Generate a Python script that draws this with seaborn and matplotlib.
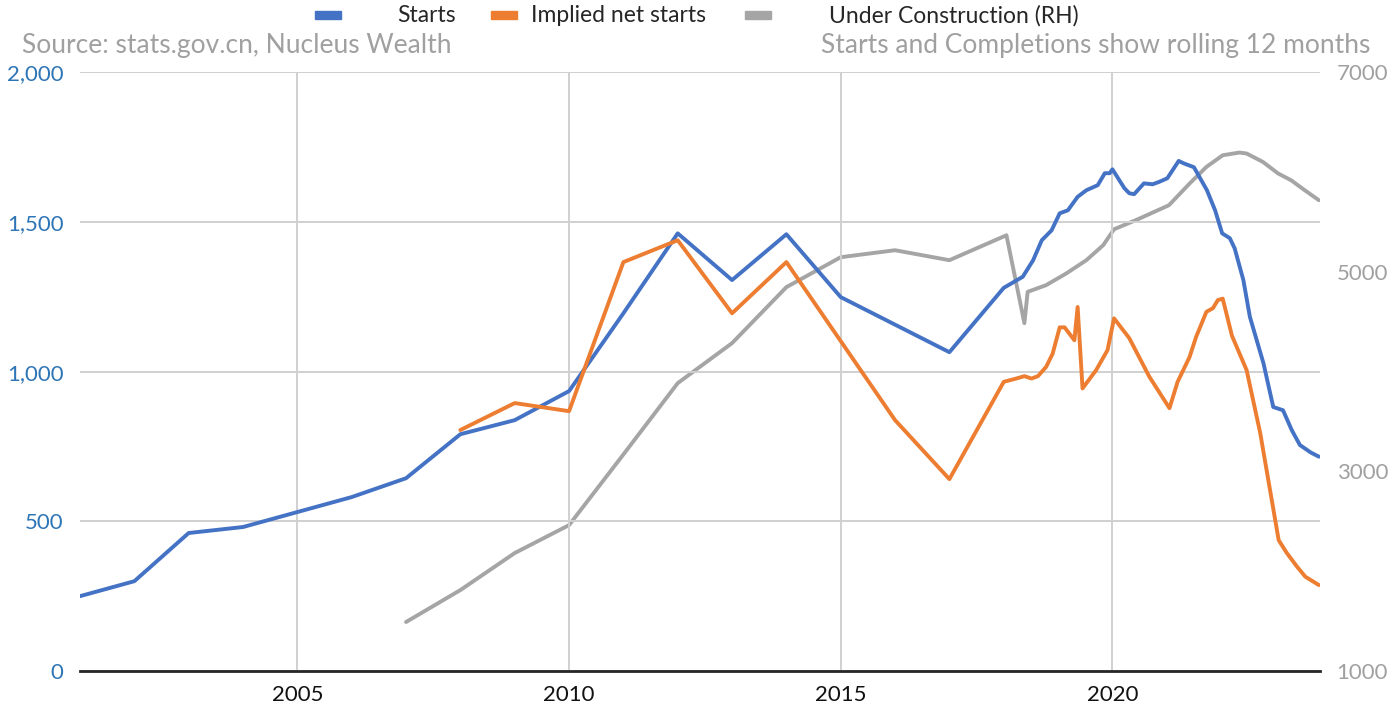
import pandas as pd
import numpy as np
import matplotlib
matplotlib.use("Agg")
import matplotlib.pyplot as plt
import seaborn as sns
from matplotlib.patches import Rectangle

# Starts (LH) - annual to 2018, then monthly rolling 12m
starts_x = [2001.0, 2002.0, 2003.0, 2004.0, 2005.0, 2006.0, 2007.0, 2008.0, 2009.0, 2010.0,
            2011.0, 2012.0, 2013.0, 2014.0, 2015.0, 2016.0, 2017.0, 2018.0,
            2018.35, 2018.54, 2018.7, 2018.88, 2019.03, 2019.18, 2019.36, 2019.52, 2019.73,
            2019.86, 2019.95, 2020.0, 2020.22, 2020.31, 2020.4, 2020.58, 2020.74, 2020.86,
            2021.01, 2021.22, 2021.31, 2021.5, 2021.74, 2021.89, 2022.02, 2022.16, 2022.25,
            2022.41, 2022.53, 2022.78, 2022.96, 2023.14, 2023.3, 2023.45, 2023.65, 2023.8]
starts_y = [250, 300, 461, 481, 531, 581, 644, 791, 838, 935,
            1195, 1462, 1306, 1459, 1249, 1157, 1065, 1280,
            1317, 1372, 1439, 1472, 1529, 1539, 1584, 1606, 1623,
            1663, 1663, 1676, 1613, 1596, 1593, 1629, 1626, 1634,
            1646, 1704, 1696, 1683, 1606, 1539, 1462, 1446, 1412,
            1306, 1183, 1028, 882, 871, 805, 755, 730, 716]

# Implied net starts (LH)
net_x = [2008.0, 2009.0, 2010.0, 2011.0, 2012.0, 2013.0, 2014.0, 2016.0, 2017.0, 2018.0,
         2018.23, 2018.38, 2018.51, 2018.63, 2018.78, 2018.9, 2019.03, 2019.12, 2019.3,
         2019.36, 2019.45, 2019.7, 2019.91, 2020.03, 2020.31, 2020.68, 2021.05, 2021.2,
         2021.42, 2021.54, 2021.73, 2021.85, 2021.94, 2022.03, 2022.2, 2022.47, 2022.72,
         2023.06, 2023.21, 2023.4, 2023.55, 2023.8]
net_y = [805, 895, 868, 1366, 1439, 1195, 1366, 838, 641, 966,
         977, 985, 977, 985, 1016, 1060, 1148, 1148, 1105,
         1216, 944, 1005, 1072, 1178, 1112, 983, 878, 966,
         1049, 1116, 1200, 1212, 1239, 1244, 1120, 1005, 795,
         437, 394, 348, 315, 287]

# Under construction (RH)
uc_x = [2007.0, 2008.0, 2009.0, 2010.0, 2011.0, 2012.0, 2013.0, 2014.0, 2015.0, 2016.0,
        2017.0, 2018.05, 2018.38, 2018.44, 2018.78, 2019.15, 2019.52, 2019.83, 2020.03,
        2020.43, 2021.04, 2021.42, 2021.73, 2022.03, 2022.34, 2022.47, 2022.77, 2023.05,
        2023.29, 2023.54, 2023.8]
uc_y = [1491, 1811, 2182, 2462, 3170, 3885, 4286, 4847, 5147, 5217,
        5117, 5367, 4486, 4800, 4867, 4984, 5117, 5267, 5427,
        5518, 5668, 5885, 6052, 6169, 6196, 6186, 6102, 5986,
        5918, 5818, 5718]

series_names = ["Starts", "Implied net starts", "Under Construction (RH)"]

blue = "#4472C4"
orange = "#ED7D31"
grey = "#A5A5A5"

sns.set_style("white")
plt.rcParams['font.family'] = ['Lato', 'DejaVu Sans']

fig = plt.figure(figsize=(13.94, 7.09), dpi=100)
ax = fig.add_axes([0.0574, 0.0536, 0.8895, 0.8444])

df_s = pd.DataFrame({'x': starts_x, 'y': starts_y})
df_n = pd.DataFrame({'x': net_x, 'y': net_y})
df_u = pd.DataFrame({'x': uc_x, 'y': uc_y})

ax.set_xlim(2001.0, 2023.82)
ax.set_ylim(0, 2000)
ax.set_yticks(np.arange(0, 2001, 500))
ax.set_yticklabels(['0', '500', '1,000', '1,500', '2,000'])
ax.set_xticks([2005, 2010, 2015, 2020])
ax.grid(True, color="#D0D0D0", linewidth=1.4)
ax.set_axisbelow(True)

ax2 = ax.twinx()
ax2.set_ylim(1000, 7000)
ax2.set_yticks([1000, 3000, 5000, 7000])

sns.lineplot(data=df_u, x='x', y='y', ax=ax2, color=grey, linewidth=2.8, zorder=1)
sns.lineplot(data=df_s, x='x', y='y', ax=ax, color=blue, linewidth=2.8, zorder=3)
sns.lineplot(data=df_n, x='x', y='y', ax=ax, color=orange, linewidth=2.8, zorder=3)

# starts/net drawn on top of the grey line
ax.set_zorder(ax2.get_zorder() + 1)
ax.patch.set_visible(False)

for a in (ax, ax2):
    a.set_xlabel("")
    a.set_ylabel("")
    for s in a.spines.values():
        s.set_visible(False)
ax.spines['bottom'].set_visible(True)
ax.spines['bottom'].set_color("#262626")
ax.spines['bottom'].set_linewidth(2)

ax.tick_params(axis='y', length=0, labelsize=16, labelcolor="#2E75B6", pad=12)
ax.tick_params(axis='x', length=0, labelsize=16, labelcolor="#111111", pad=10)
ax2.tick_params(axis='y', length=0, labelsize=16, labelcolor="#A0A0A0", pad=12)

fig.text(0.016, 0.936, "Source: stats.gov.cn, Nucleus Wealth", color="#A0A0A0", fontsize=19, va='center')
fig.text(0.983, 0.936, "Starts and Completions show rolling 12 months", color="#A0A0A0",
         fontsize=19, va='center', ha='right')

# Excel-style legend across the top
W, H = 1394, 709
legend_items = [(blue, 315, 397), (orange, 491, 531), (grey, 745, 829)]
for (c, px, tx), name in zip(legend_items, series_names):
    fig.patches.append(Rectangle((px / W, 1 - 19 / H), 26 / W, 8 / H, transform=fig.transFigure,
                                 color=c, figure=fig))
    fig.text(tx / W, 1 - 16 / H, name, fontsize=16.5, color="#262626", va='center', ha='left')

plt.savefig("out.png", dpi=100)
